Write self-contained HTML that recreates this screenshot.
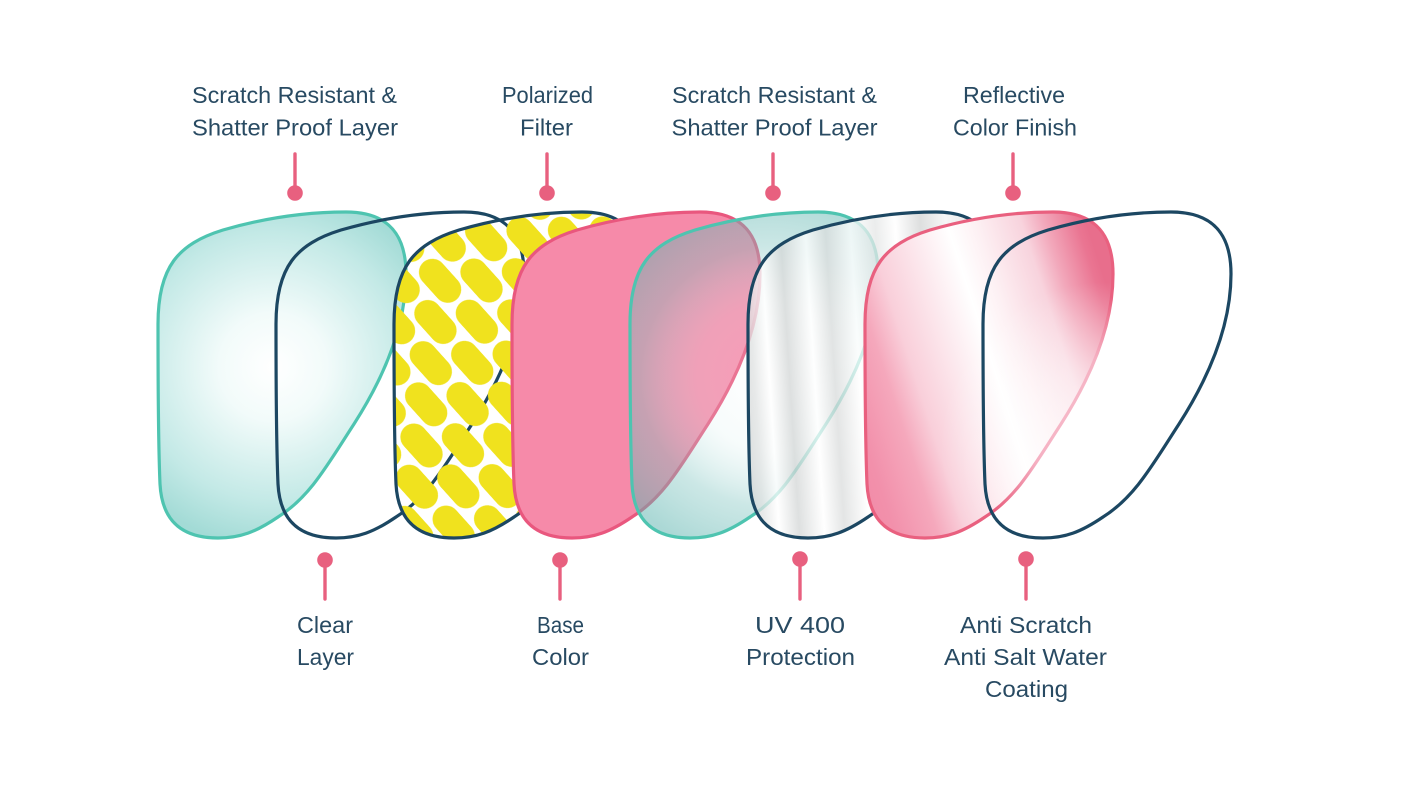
<!DOCTYPE html>
<html>
<head>
<meta charset="utf-8">
<style>
  html,body{margin:0;padding:0;background:#ffffff;}
  svg{display:block;}
  .lbl{font-family:"Liberation Sans",sans-serif;font-size:23px;fill:#284a62;}
</style>
</head>
<body>
<svg width="1405" height="792" viewBox="0 0 1405 792" xmlns="http://www.w3.org/2000/svg">
  <defs>
    <path id="lens" d="M 0 112 C 0 55 20 32 65 18 C 110 5 150 0 188 0 C 230 0 248 22 248 62 C 248 112 228 162 196 212 C 170 252 152 285 120 305 C 98 320 82 326 60 326 C 25 326 4 310 2 272 C 0 225 0 165 0 112 Z"/>

    <radialGradient id="g1" gradientUnits="userSpaceOnUse" cx="115" cy="155" r="180">
      <stop offset="0" stop-color="#ffffff"/>
      <stop offset="0.3" stop-color="#f2fbfa"/>
      <stop offset="0.75" stop-color="#c3e9e6"/>
      <stop offset="1" stop-color="#a3dbd6"/>
    </radialGradient>

    <radialGradient id="g5" gradientUnits="userSpaceOnUse" cx="140" cy="165" r="185">
      <stop offset="0" stop-color="#ffffff" stop-opacity="0.15"/>
      <stop offset="0.4" stop-color="#d8efee" stop-opacity="0.22"/>
      <stop offset="0.7" stop-color="#7fc4c0" stop-opacity="0.4"/>
      <stop offset="1" stop-color="#5fb5b0" stop-opacity="0.52"/>
    </radialGradient>

    <linearGradient id="g6" gradientUnits="userSpaceOnUse" x1="0" y1="300" x2="250" y2="284">
      <stop offset="0" stop-color="#cfd2d2"/>
      <stop offset="0.06" stop-color="#e0e2e2"/>
      <stop offset="0.12" stop-color="#ffffff"/>
      <stop offset="0.2" stop-color="#d3d6d6"/>
      <stop offset="0.3" stop-color="#ffffff"/>
      <stop offset="0.38" stop-color="#dadcdc"/>
      <stop offset="0.48" stop-color="#ffffff"/>
      <stop offset="0.58" stop-color="#e4e6e6"/>
      <stop offset="0.66" stop-color="#ffffff"/>
      <stop offset="0.76" stop-color="#d2d4d4"/>
      <stop offset="0.86" stop-color="#f3f3f3"/>
      <stop offset="1" stop-color="#dcdcdc"/>
    </linearGradient>

    <linearGradient id="g7" gradientUnits="userSpaceOnUse" x1="0" y1="330" x2="294.5" y2="234">
      <stop offset="0" stop-color="#f08aa6"/>
      <stop offset="0.1" stop-color="#f290ab"/>
      <stop offset="0.23" stop-color="#f5a8bc"/>
      <stop offset="0.32" stop-color="#f9cfda"/>
      <stop offset="0.57" stop-color="#ffffff"/>
      <stop offset="0.66" stop-color="#fdf0f3"/>
      <stop offset="0.8" stop-color="#f8d3dd"/>
      <stop offset="0.87" stop-color="#f2a8bb"/>
      <stop offset="0.97" stop-color="#ea7592"/>
      <stop offset="1" stop-color="#e86e8c"/>
    </linearGradient>
    <radialGradient id="g7w" gradientUnits="userSpaceOnUse" cx="240" cy="235" r="165">
      <stop offset="0" stop-color="#ffffff" stop-opacity="0.75"/>
      <stop offset="0.5" stop-color="#ffffff" stop-opacity="0.45"/>
      <stop offset="1" stop-color="#ffffff" stop-opacity="0"/>
    </radialGradient>
    <radialGradient id="s7" gradientUnits="userSpaceOnUse" cx="240" cy="220" r="135">
      <stop offset="0" stop-color="#f8c0ce"/>
      <stop offset="0.55" stop-color="#f5b0c2"/>
      <stop offset="1" stop-color="#e9607f"/>
    </radialGradient>

    <pattern id="pills" patternUnits="userSpaceOnUse" width="55" height="62" patternTransform="translate(428 354) rotate(48) translate(-27.5 -15.5)">
      <g fill="#f0e21e">
        <rect x="2.5" y="2" width="50" height="27" rx="13.5"/>
        <rect x="-25" y="33" width="50" height="27" rx="13.5"/>
        <rect x="30" y="33" width="50" height="27" rx="13.5"/>
      </g>
    </pattern>
  </defs>

  <!-- Lens 1: teal -->
  <g transform="translate(158 212)">
    <use href="#lens" fill="url(#g1)" stroke="#4ec4b0" stroke-width="3.2"/>
  </g>
  <!-- Lens 2: clear -->
  <g transform="translate(276 212)">
    <use href="#lens" fill="none" stroke="#1c4762" stroke-width="3.2"/>
  </g>
  <!-- Lens 3: polarized -->
  <g transform="translate(394 212)">
    <use href="#lens" fill="url(#pills)" stroke="#1c4762" stroke-width="3.2"/>
  </g>
  <!-- Lens 4: pink base -->
  <g transform="translate(512 212)">
    <use href="#lens" fill="#f68aa9" stroke="#e9577e" stroke-width="3.2"/>
  </g>
  <!-- Lens 5: translucent teal -->
  <g transform="translate(630 212)">
    <use href="#lens" fill="url(#g5)" stroke="#4ec4b0" stroke-width="3.2"/>
  </g>
  <!-- Lens 6: silver -->
  <g transform="translate(748 212)">
    <use href="#lens" fill="url(#g6)" fill-opacity="0.75" stroke="#1c4762" stroke-width="3.2"/>
  </g>
  <!-- Lens 7: reflective pink -->
  <g transform="translate(865 212)">
    <use href="#lens" fill="url(#g7)"/>
    <use href="#lens" fill="url(#g7w)"/>
    <use href="#lens" fill="none" stroke="url(#s7)" stroke-width="3.2"/>
  </g>
  <!-- Lens 8: outline -->
  <g transform="translate(983 212)">
    <use href="#lens" fill="none" stroke="#1c4762" stroke-width="3.2"/>
  </g>

  <!-- Connectors -->
  <g stroke="#e8607f" stroke-width="3.4" stroke-linecap="round" fill="#e8607f">
    <line x1="295" y1="154" x2="295" y2="188"/>
    <circle cx="295" cy="193" r="7.8" stroke="none"/>
    <line x1="547" y1="154" x2="547" y2="188"/>
    <circle cx="547" cy="193" r="7.8" stroke="none"/>
    <line x1="773" y1="154" x2="773" y2="188"/>
    <circle cx="773" cy="193" r="7.8" stroke="none"/>
    <line x1="1013" y1="154" x2="1013" y2="188"/>
    <circle cx="1013" cy="193" r="7.8" stroke="none"/>

    <circle cx="325" cy="560" r="7.8" stroke="none"/>
    <line x1="325" y1="564" x2="325" y2="599"/>
    <circle cx="560" cy="560" r="7.8" stroke="none"/>
    <line x1="560" y1="564" x2="560" y2="599"/>
    <circle cx="800" cy="559" r="7.8" stroke="none"/>
    <line x1="800" y1="564" x2="800" y2="599"/>
    <circle cx="1026" cy="559" r="7.8" stroke="none"/>
    <line x1="1026" y1="564" x2="1026" y2="599"/>
  </g>

  <!-- Labels -->
  <g class="lbl" text-anchor="middle">
    <text class="lbl" x="294.5" y="103" textLength="205" lengthAdjust="spacingAndGlyphs">Scratch Resistant &amp;</text>
    <text class="lbl" x="295" y="135.5" textLength="206" lengthAdjust="spacingAndGlyphs">Shatter Proof Layer</text>

    <text class="lbl" x="547.5" y="103" textLength="91" lengthAdjust="spacingAndGlyphs">Polarized</text>
    <text class="lbl" x="546.5" y="135.5" textLength="53" lengthAdjust="spacingAndGlyphs">Filter</text>

    <text class="lbl" x="774.5" y="103" textLength="205" lengthAdjust="spacingAndGlyphs">Scratch Resistant &amp;</text>
    <text class="lbl" x="774.5" y="135.5" textLength="206" lengthAdjust="spacingAndGlyphs">Shatter Proof Layer</text>

    <text class="lbl" x="1014" y="103" textLength="102" lengthAdjust="spacingAndGlyphs">Reflective</text>
    <text class="lbl" x="1015" y="135.5" textLength="124" lengthAdjust="spacingAndGlyphs">Color Finish</text>

    <text class="lbl" x="325" y="633" textLength="56" lengthAdjust="spacingAndGlyphs">Clear</text>
    <text class="lbl" x="325.5" y="665" textLength="57" lengthAdjust="spacingAndGlyphs">Layer</text>

    <text class="lbl" x="560.5" y="633" textLength="47" lengthAdjust="spacingAndGlyphs">Base</text>
    <text class="lbl" x="560.5" y="665" textLength="57" lengthAdjust="spacingAndGlyphs">Color</text>

    <text class="lbl" x="800" y="633" textLength="90" lengthAdjust="spacingAndGlyphs">UV 400</text>
    <text class="lbl" x="800.5" y="665" textLength="109" lengthAdjust="spacingAndGlyphs">Protection</text>

    <text class="lbl" x="1026" y="633" textLength="132" lengthAdjust="spacingAndGlyphs">Anti Scratch</text>
    <text class="lbl" x="1025.5" y="665" textLength="163" lengthAdjust="spacingAndGlyphs">Anti Salt Water</text>
    <text class="lbl" x="1026.5" y="697" textLength="83" lengthAdjust="spacingAndGlyphs">Coating</text>
  </g>
</svg>
</body>
</html>
